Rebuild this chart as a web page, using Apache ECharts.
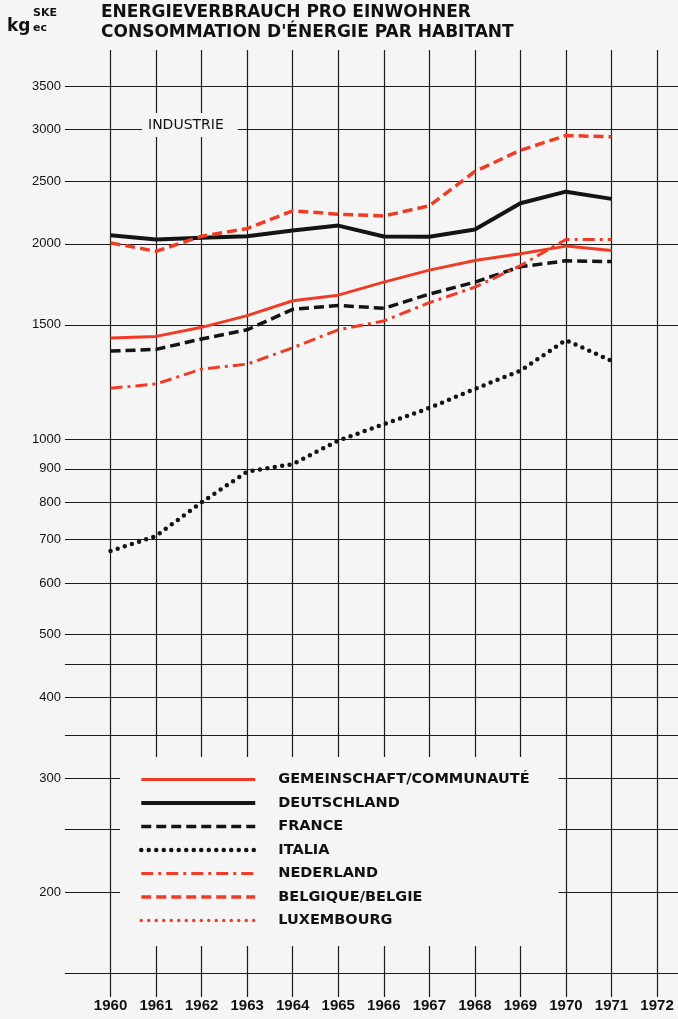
<!DOCTYPE html>
<html>
<head>
<meta charset="utf-8">
<script src="https://cdn.jsdelivr.net/npm/echarts@6/dist/echarts.min.js"></script>
<style>
  html, body { margin: 0; padding: 0; background: #f5f5f5; }
  #chart { width: 678px; height: 1019px; }
</style>
</head>
<body>
<div id="chart"></div>
<script>
// kg SKE per inhabitant, industry
const years = [1960, 1961, 1962, 1963, 1964, 1965, 1966, 1967, 1968, 1969, 1970, 1971];
const yearTicks = [1960, 1961, 1962, 1963, 1964, 1965, 1966, 1967, 1968, 1969, 1970, 1971, 1972];

const gemeinschaft = [1432, 1440, 1487, 1550, 1634, 1667, 1746, 1822, 1885, 1931, 1984, 1953];
const deutschland = [2062, 2031, 2043, 2055, 2097, 2134, 2053, 2051, 2104, 2310, 2407, 2346];
const france = [1367, 1375, 1427, 1474, 1585, 1607, 1591, 1673, 1746, 1844, 1883, 1878];
const italia = [672, 709, 799, 891, 915, 995, 1054, 1117, 1195, 1275, 1421, 1320];
const nederland = [1198, 1216, 1282, 1305, 1383, 1474, 1521, 1623, 1715, 1851, 2031, 2031];
const belgique = [2007, 1948, 2055, 2111, 2249, 2222, 2208, 2289, 2586, 2788, 2938, 2925];
const luxembourg = []; // off the scale, legend only

const yGridValues = [150, 200, 250, 300, 350, 400, 450, 500, 600, 700, 800, 900, 1000, 1500, 2000, 2500, 3000, 3500];
const yLabelValues = [200, 300, 400, 500, 600, 700, 800, 900, 1000, 1500, 2000, 2500, 3000, 3500];

const RED = '#f03c26';
const BLACK = '#141414';
const BG = '#f5f5f5';

function pairs(vals) {
  return vals.map((v, i) => [years[i], v]);
}

function lineSeries(name, vals, color, width, type, cap) {
  return {
    name: name,
    type: 'line',
    data: pairs(vals),
    symbol: 'none',
    showSymbol: false,
    lineStyle: { color: color, width: width, type: type, cap: cap || 'butt' },
    itemStyle: { color: color },
  };
}

const chart = echarts.init(document.getElementById('chart'));

const option = {
  backgroundColor: BG,
  animation: false,
  title: {
    text: "ENERGIEVERBRAUCH PRO EINWOHNER\nCONSOMMATION D'ÉNERGIE PAR HABITANT",
    left: 101,
    top: 3,
    padding: 0,
    textStyle: {
      fontFamily: 'DejaVu Sans',
      fontWeight: 'bold',
      fontSize: 17,
      lineHeight: 20,
      color: '#111',
    },
  },
  graphic: [
    { type: 'text', left: 7, top: 18, style: { text: 'kg', font: 'bold 17px "DejaVu Sans"', fill: '#111' } },
    { type: 'text', left: 33, top: 8, style: { text: 'SKE', font: 'bold 11px "DejaVu Sans"', fill: '#111' } },
    { type: 'text', left: 33, top: 23, style: { text: 'ec', font: 'bold 11px "DejaVu Sans"', fill: '#111' } },
    {
      type: 'text', left: 142, top: 113, z: 10,
      style: {
        text: 'INDUSTRIE', font: '14px "DejaVu Sans"', fill: '#111',
        backgroundColor: BG, padding: [5, 14, 5, 6],
      },
    },
  ],
  legend: {
    orient: 'vertical',
    left: 120,
    top: 757,
    padding: [15, 29, 18, 19],
    backgroundColor: BG,
    itemWidth: 114,
    itemHeight: 14,
    itemGap: 8.5,
    itemStyle: { opacity: 0 },
    lineStyle: { width: 'inherit', type: 'inherit', cap: 'inherit' },
    textStyle: {
      fontFamily: 'DejaVu Sans',
      fontWeight: 'bold',
      fontSize: 14.5,
      color: '#111',
      padding: [0, 0, 0, 18],
    },
  },
  grid: { left: 65, right: 0, top: 50, bottom: 22 },
  xAxis: {
    type: 'value',
    min: 1959,
    max: 1972.46,
    axisLine: { show: false },
    axisTick: { show: false, customValues: yearTicks },
    axisLabel: {
      customValues: yearTicks,
      margin: 1,
      fontFamily: 'Liberation Sans',
      fontWeight: 'bold',
      fontSize: 15,
      color: '#111',
      formatter: (v) => String(Math.round(v)),
    },
    splitLine: { show: true, lineStyle: { color: '#1c1c1c', width: 1.2 } },
  },
  yAxis: {
    type: 'log',
    min: 138,
    max: 3980,
    axisLine: { show: false },
    axisTick: { show: false, customValues: yGridValues },
    axisLabel: {
      customValues: yLabelValues,
      margin: 4,
      fontFamily: 'Liberation Sans',
      fontSize: 13,
      color: '#111',
      formatter: (v) => String(Math.round(v)),
    },
    splitLine: { show: true, lineStyle: { color: '#1c1c1c', width: 1.2 } },
  },
  series: [
    lineSeries('GEMEINSCHAFT/COMMUNAUTÉ', gemeinschaft, RED, 3),
    lineSeries('DEUTSCHLAND', deutschland, BLACK, 4),
    lineSeries('FRANCE', france, BLACK, 3.5, [10, 5]),
    lineSeries('ITALIA', italia, BLACK, 4.5, [0, 7.5], 'round'),
    lineSeries('NEDERLAND', nederland, RED, 3, [12, 5, 3, 5]),
    lineSeries('BELGIQUE/BELGIE', belgique, RED, 3.5, [10, 5]),
    lineSeries('LUXEMBOURG', luxembourg, RED, 3.5, [0, 7.5], 'round'),
  ],
};

chart.setOption(option);
</script>
</body>
</html>
